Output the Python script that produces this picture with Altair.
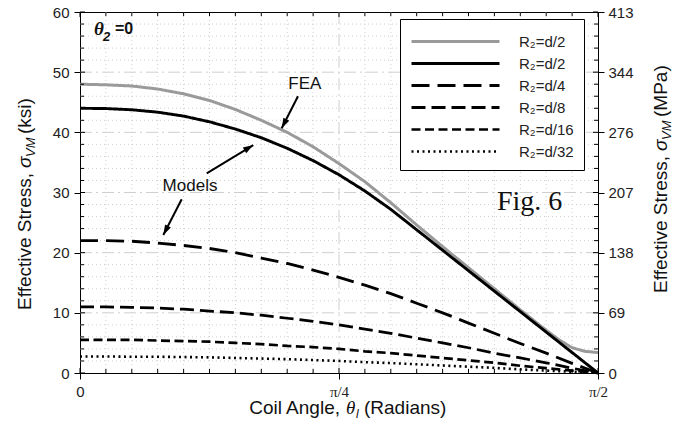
import math
import altair as alt
import pandas as pd

HALF_PI = math.pi / 2
W, H = 518, 361

# ---------------- data ----------------
theta = [0.0, 0.0785, 0.1571, 0.2356, 0.3142, 0.3927, 0.4712, 0.5498, 0.6283, 0.7069,
         0.7854, 0.8639, 0.9425, 1.0210, 1.0996, 1.1781, 1.2566, 1.3352, 1.4137, 1.4923, 1.5708]
theta_fea = [0.0, 0.0785, 0.1571, 0.2356, 0.3142, 0.3927, 0.4712, 0.5498, 0.6283, 0.7069,
             0.7854, 0.8639, 0.9425, 1.0210, 1.0996, 1.1781, 1.2566, 1.3352, 1.3744, 1.4137,
             1.4530, 1.4923, 1.5315, 1.5708]
fea_d2 = [48.0, 47.9, 47.7, 47.2, 46.4, 45.3, 43.8, 42.0, 40.0, 37.6, 34.8, 31.8, 28.3, 24.6,
          21.0, 17.5, 14.0, 10.5, 8.8, 7.1, 5.5, 4.2, 3.6, 3.4]
model_d2 = [44.0, 43.95, 43.75, 43.35, 42.7, 41.75, 40.55, 39.1, 37.35, 35.3, 32.95, 30.25,
            27.2, 23.8, 20.4, 17.0, 13.6, 10.2, 6.8, 3.4, 0.0]
model_d4 = [22.0, 22.0, 21.9, 21.6, 21.2, 20.7, 20.0, 19.1, 18.2, 17.1, 15.9, 14.6, 13.2, 11.6,
            10.0, 8.3, 6.6, 4.9, 3.3, 1.6, 0.0]
model_d8 = [11.0, 11.0, 10.9, 10.8, 10.6, 10.3, 10.0, 9.6, 9.1, 8.6, 8.0, 7.3, 6.6, 5.8,
            5.0, 4.2, 3.3, 2.5, 1.7, 0.8, 0.0]
model_d16 = [5.5, 5.5, 5.5, 5.4, 5.3, 5.2, 5.0, 4.8, 4.5, 4.3, 4.0, 3.6, 3.3, 2.9,
             2.5, 2.1, 1.7, 1.2, 0.8, 0.4, 0.0]
model_d32 = [2.75, 2.75, 2.7, 2.7, 2.65, 2.6, 2.5, 2.4, 2.3, 2.15, 2.0, 1.8, 1.65, 1.45,
             1.25, 1.05, 0.85, 0.6, 0.4, 0.2, 0.0]

series_keys = ["FEA", "d/2", "d/4", "d/8", "d/16", "d/32"]
series_colors = ["#9a9a9a", "black", "black", "black", "black", "black"]
series_dash = [[1, 0], [1, 0], [18, 8], [14, 6], [9, 4.5], [2, 3.5]]
series_width = [3, 2.6, 3, 3, 3, 2.6]

y_major = [0, 10, 20, 30, 40, 50, 60]
y_major_grid = [10, 20, 30, 40, 50]
y_minor = [2, 4, 6, 8, 12, 14, 16, 18, 22, 24, 26, 28, 32, 34, 36, 38, 42, 44, 46, 48,
           52, 54, 56, 58]
mpa_labels = ["0", "69", "138", "207", "276", "344", "413"]
x_major = [0.0, math.pi / 4, math.pi / 2]
x_major_grid = [math.pi / 4]
x_minor = [0.0785, 0.1571, 0.2356, 0.3142, 0.3927, 0.4712, 0.5498, 0.6283, 0.7069,
           0.8639, 0.9425, 1.0210, 1.0996, 1.1781, 1.2566, 1.3352, 1.4137, 1.4923]

# annotation arrows (start -> tip), in data coordinates
arrow_x1 = [0.661, 0.3842, 0.3084]
arrow_y1 = [46.0, 33.19, 28.87]
arrow_x2 = [0.6116, 0.5255, 0.2526]
arrow_y2 = [40.67, 37.89, 22.93]
notes = ["FEA", "Models"]
note_x = [0.682, 0.3336]
note_y = [47.2, 30.25]

# ---------------- tables ----------------
rows = []
for t, v in zip(theta_fea, fea_d2):
    rows.append({"theta": t, "ksi": v, "series": "FEA", "ord": 0})
for k, (key, vals) in enumerate(zip(series_keys[1:],
                                     [model_d2, model_d4, model_d8, model_d16, model_d32])):
    for t, v in zip(theta, vals):
        rows.append({"theta": t, "ksi": v, "series": key, "ord": k + 1})
curves_df = pd.DataFrame(rows)

xs = alt.Scale(domain=[0, HALF_PI], nice=False, zero=False)
ys = alt.Scale(domain=[0, 60], nice=False, zero=False)

GRID = "#cfcfcf"


def hgrid(vals, dash):
    return alt.Chart(pd.DataFrame({"v": vals})).mark_rule(
        color=GRID, strokeWidth=1, strokeDash=dash).encode(
        y=alt.Y("v:Q", scale=ys, axis=None), x=alt.value(0), x2=alt.value(W))


def vgrid(vals, dash):
    return alt.Chart(pd.DataFrame({"v": vals})).mark_rule(
        color=GRID, strokeWidth=1, strokeDash=dash).encode(
        x=alt.X("v:Q", scale=xs, axis=None), y=alt.value(0), y2=alt.value(H))


grid = [hgrid(y_minor, [1, 3]), hgrid(y_major_grid, [12, 4, 2, 4]),
        vgrid(x_minor, [1, 3]), vgrid(x_major_grid, [12, 4, 2, 4])]

legend = alt.Legend(
    orient="none", legendX=320, legendY=7, title=None,
    strokeColor="black", fillColor="white", padding=10,
    symbolType="M-1,0L7,0", symbolSize=484, labelFontSize=15,
    labelFont="Liberation Sans", labelColor="#222", labelOffset=84, rowPadding=1,
    labelExpr="(datum.label == 'FEA' ? 'R₂=d/2' : 'R₂=' + datum.label) + '\u2002'")

curves = alt.Chart(curves_df).mark_line(strokeCap="butt").encode(
    x=alt.X("theta:Q", scale=xs, axis=alt.Axis(
        values=x_major, title=None, grid=False, tickSize=6, labelPadding=5,
        labelFontSize=15, labelFlush=False, labelOverlap=False,
        labelFont={"condition": {"test": "datum.value == 0", "value": "Liberation Sans"},
                   "value": "Liberation Serif"},
        labelExpr="datum.value == 0 ? '0' : (datum.value < 1 ? 'π/4' : 'π/2')")),
    y=alt.Y("ksi:Q", scale=ys, axis=alt.Axis(
        values=y_major, title=None, grid=False, tickSize=6, labelPadding=5,
        labelFontSize=15)),
    color=alt.Color("series:N", scale=alt.Scale(domain=series_keys, range=series_colors),
                    legend=legend),
    strokeDash=alt.StrokeDash("series:N", scale=alt.Scale(domain=series_keys,
                                                          range=series_dash)),
    strokeWidth=alt.StrokeWidth("series:N", scale=alt.Scale(domain=series_keys,
                                                            range=series_width)),
    detail="series:N",
    order="ord:Q",
)

right_axis = alt.Chart(pd.DataFrame({"v": y_major})).mark_point(opacity=0).encode(
    y=alt.Y("v:Q", scale=ys, axis=alt.Axis(
        orient="right", values=y_major, title=None, grid=False, tickSize=6,
        labelPadding=4, labelFontSize=15,
        labelExpr="%s[round(datum.value / 10)]" % str(mpa_labels))),
    x=alt.value(W))


def ticks_y(vals, x1, x2):
    return alt.Chart(pd.DataFrame({"v": vals})).mark_rule(color="black", strokeWidth=1).encode(
        y=alt.Y("v:Q", scale=ys, axis=None), x=alt.value(x1), x2=alt.value(x2))


def ticks_x(vals, y1, y2):
    return alt.Chart(pd.DataFrame({"v": vals})).mark_rule(color="black", strokeWidth=1).encode(
        x=alt.X("v:Q", scale=xs, axis=None), y=alt.value(y1), y2=alt.value(y2))


ticks = [ticks_y(y_minor, 0, 4), ticks_y(y_minor, W - 4, W),
         ticks_y(y_major, W - 5, W), ticks_y(y_major, 0, 5),
         ticks_x(x_minor, H - 4, H), ticks_x(x_minor, 0, 4),
         ticks_x(x_major, H - 5, H), ticks_x(x_major, 0, 5)]

# arrows
ang = []
for a, b, c, d in zip(arrow_x1, arrow_y1, arrow_x2, arrow_y2):
    dx = (c - a) * W / HALF_PI
    dy = -(d - b) * H / 60.0
    ang.append(math.degrees(math.atan2(dx, -dy)) % 360)
arr_df = pd.DataFrame({"x1": arrow_x1, "y1": arrow_y1, "x2": arrow_x2, "y2": arrow_y2,
                       "ang": ang})
shafts = alt.Chart(arr_df).mark_rule(color="black", strokeWidth=2).encode(
    x=alt.X("x1:Q", scale=xs, axis=None), y=alt.Y("y1:Q", scale=ys, axis=None),
    x2="x2:Q", y2="y2:Q")
heads = alt.Chart(arr_df).mark_point(
    shape="M0,0L-0.32,1L0.32,1Z", filled=True, color="black", opacity=1, size=420,
    strokeWidth=0).encode(
    x=alt.X("x2:Q", scale=xs, axis=None), y=alt.Y("y2:Q", scale=ys, axis=None),
    angle=alt.Angle("ang:Q", scale=None))

note_layer = alt.Chart(pd.DataFrame({"t": notes, "x": note_x, "y": note_y})).mark_text(
    font="Liberation Sans", fontSize=17, color="#111", align="center",
    baseline="alphabetic").encode(
    x=alt.X("x:Q", scale=xs, axis=None), y=alt.Y("y:Q", scale=ys, axis=None), text="t:N")


def ptext(txt, x, y, size, font="Liberation Sans", style="normal", weight="normal",
          align="left", angle=0, baseline="alphabetic"):
    return alt.Chart(pd.DataFrame({"t": [txt]})).mark_text(
        font=font, fontSize=size, fontStyle=style, fontWeight=weight, align=align,
        baseline=baseline, angle=angle, color="#111").encode(
        text="t:N", x=alt.value(x), y=alt.value(y))


texts = [
    # theta_2 = 0
    ptext("θ", 14, 23, 19, font="Liberation Serif", style="italic", weight="bold"),
    ptext("2", 23, 29, 13, font="Liberation Sans", style="italic", weight="bold"),
    ptext("=0", 35, 22, 16, weight="bold"),
    # Fig. 6
    ptext("Fig. 6", 417, 198, 28, font="Liberation Serif"),
    # x title
    ptext("Coil Angle,", 260, 402, 19, align="right"),
    ptext("θ", 266, 402, 19, font="Liberation Serif", style="italic"),
    ptext("l", 276, 406, 12, style="italic"),
    ptext("(Radians)", 284, 402, 19),
    # left title
    ptext("Effective Stress,", -49, 161, 19, align="right", angle=270),
    ptext("σ", -49, 156, 19, style="italic", angle=270),
    ptext("VM", -45, 145, 13, style="italic", angle=270),
    ptext("(ksi)", -49, 122, 19, angle=270),
    # right title
    ptext("Effective Stress,", 587, 144, 19, align="right", angle=270),
    ptext("σ", 587, 139, 19, style="italic", angle=270),
    ptext("VM", 591, 128, 13, style="italic", angle=270),
    ptext("(MPa)", 587, 105, 19, angle=270),
]

chart = alt.layer(*grid, curves, right_axis, *ticks, shafts, heads, note_layer, *texts).resolve_axis(
    y="independent", x="independent").properties(
    width=W, height=H,
    padding={"left": 80, "top": 12, "right": 84, "bottom": 54},
    autosize=alt.AutoSizeParams(type="none"),
    background="white",
).configure_view(stroke="black", strokeWidth=1).configure_axis(
    domainColor="black", tickColor="black", labelColor="#222",
    labelFont="Liberation Sans", labelFontSize=15, domainWidth=1)

chart.save("out.html", embed_options={"renderer": "svg", "actions": False})
